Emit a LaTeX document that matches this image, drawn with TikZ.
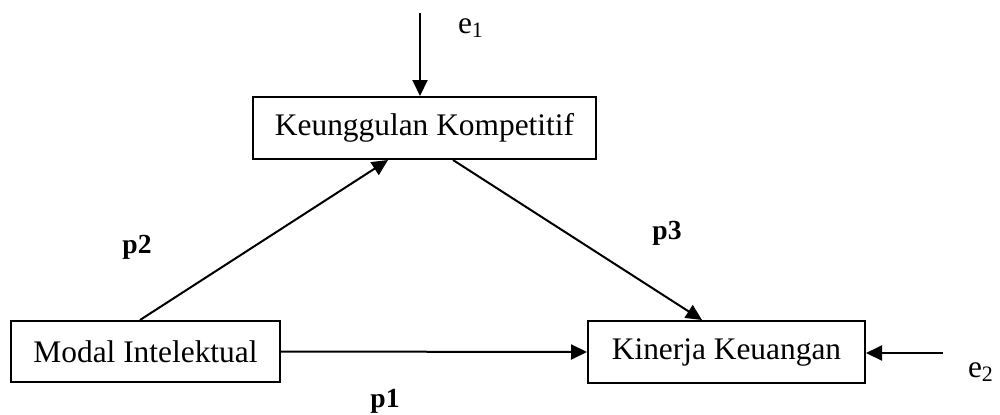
\documentclass[tikz,border=0pt]{standalone}
\usepackage{fontspec}
\setmainfont{Liberation Serif}
\usetikzlibrary{arrows.meta,calc}
\begin{document}
\begin{tikzpicture}[x=0.5pt,y=-0.5pt,
  box/.style={draw,line width=1pt,inner sep=0pt,font=\fontsize{15.7}{18}\selectfont},
  arr/.style={line width=1pt,-{Triangle[length=8pt,width=7.5pt]}},
  plabel/.style={font=\fontsize{13.8}{16}\selectfont\bfseries,inner sep=0pt},
  elabel/.style={font=\fontsize{15.7}{18}\selectfont,inner sep=0pt}]
\useasboundingbox (0,0) rectangle (1000,414);
\node[box,minimum width=171.5pt,minimum height=31pt] (K) at (424.5,128) {Keunggulan Kompetitif};
\node[box,minimum width=134.5pt,minimum height=30.5pt] (M) at (145.5,351.5) {Modal Intelektual};
\node[box,minimum width=138.5pt,minimum height=31pt] (KK) at (726.5,352) {Kinerja Keuangan};
\coordinate (e1s) at (420,13);
\coordinate (e2s) at (943,353);
\draw[arr] (e1s) -- (e1s |- K.north);
\draw[arr] (e2s) -- (e2s -| KK.east);
\draw[arr] (M.east) -- (KK.west);
\draw[arr] ($(M.north)+(-5.5,0)$) -- ($(K.south)+(-36.5,0)$);
\draw[arr] ($(K.south)+(28.5,0)$) -- ($(KK.north)+(-24.5,0)$);
\node[elabel] (e1) at (471,28) {e\textsubscript{1}};
\node[elabel] (e2) at (981,372) {e\textsubscript{2}};
\node[plabel] (p2) at (137,247) {p2};
\node[plabel] (p3) at (667,233) {p3};
\node[plabel] (p1) at (385,401) {p1};
\end{tikzpicture}
\end{document}
